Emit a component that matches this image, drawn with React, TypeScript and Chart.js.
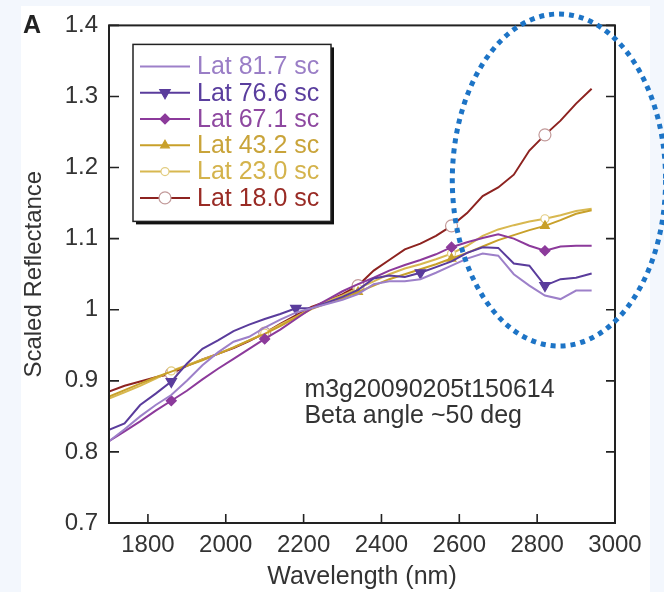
import React, { useEffect, useRef } from "react";
import { Chart, registerables } from "chart.js";

Chart.register(...registerables);

// ---------- data ----------
const wavelengths = [
  1700, 1740, 1780, 1820, 1860, 1900, 1940, 1980, 2020, 2060, 2100, 2140, 2180, 2220, 2260, 2300,
  2340, 2380, 2420, 2460, 2500, 2540, 2580, 2620, 2660, 2700, 2740, 2780, 2820, 2860, 2900, 2940,
];

const lat817 = [
  0.815, 0.832, 0.85, 0.866, 0.88, 0.9, 0.922, 0.94, 0.955, 0.962, 0.975, 0.986, 0.996, 1.002, 1.008, 1.014,
  1.022, 1.036, 1.04, 1.04, 1.043, 1.052, 1.062, 1.072, 1.079, 1.076, 1.05, 1.034, 1.02, 1.015, 1.027, 1.027,
];
const lat766 = [
  0.831, 0.84, 0.866, 0.882, 0.899, 0.924, 0.945, 0.957, 0.97, 0.979, 0.987, 0.994, 1.002, 1.002, 1.01, 1.018,
  1.028, 1.044, 1.048, 1.046, 1.052, 1.06, 1.068, 1.08, 1.088, 1.087, 1.065, 1.062, 1.034, 1.043, 1.045, 1.051,
];
const lat671 = [
  0.815, 0.829, 0.843, 0.858, 0.872, 0.886, 0.902, 0.917, 0.931, 0.945, 0.959, 0.972, 0.987, 1.002, 1.014, 1.026,
  1.036, 1.045, 1.055, 1.063, 1.07, 1.078, 1.088, 1.095, 1.101, 1.106, 1.1, 1.09, 1.083, 1.089, 1.09, 1.09,
];
const lat432 = [
  0.878, 0.887, 0.896, 0.905, 0.913, 0.921, 0.929, 0.938, 0.947, 0.957, 0.966, 0.977, 0.989, 1.001, 1.009, 1.016,
  1.025, 1.034, 1.043, 1.05, 1.057, 1.064, 1.072, 1.08, 1.089, 1.098, 1.105, 1.112, 1.118, 1.126, 1.135, 1.14,
];
const lat230 = [
  0.875, 0.884, 0.893, 0.903, 0.914, 0.922, 0.93, 0.938, 0.947, 0.957, 0.967, 0.979, 0.99, 1.002, 1.012, 1.02,
  1.03, 1.04, 1.05, 1.058, 1.064, 1.071, 1.079, 1.09, 1.104, 1.113, 1.119, 1.124, 1.128, 1.133, 1.139, 1.142,
];
const lat180 = [
  0.885, 0.893, 0.899, 0.905, 0.91, 0.921, 0.93, 0.938, 0.946, 0.956, 0.967, 0.98, 0.992, 1.004, 1.012, 1.022,
  1.034, 1.055, 1.07, 1.085, 1.093, 1.104, 1.118, 1.136, 1.16, 1.172, 1.19, 1.224, 1.246, 1.266, 1.29, 1.311,
];

const seriesLabels = ["Lat 81.7 sc", "Lat 76.6 sc", "Lat 67.1 sc", "Lat 43.2 sc", "Lat 23.0 sc", "Lat 18.0 sc"];
const seriesValues = [lat817, lat766, lat671, lat432, lat230, lat180];

// wavelengths where each series shows a marker
const markers817: number[] = [];
const markers766 = [1860, 2180, 2500, 2820];
const markers671 = [1860, 2100, 2580, 2820];
const markers432 = [2340, 2580, 2820];
const markers230 = [1860, 2100, 2340, 2580, 2820];
const markers180 = [1860, 2100, 2340, 2580, 2820];
const seriesMarkers = [markers817, markers766, markers671, markers432, markers230, markers180];

const xTicks = [1800, 2000, 2200, 2400, 2600, 2800, 3000];
const yTicks = [0.7, 0.8, 0.9, 1.0, 1.1, 1.2, 1.3, 1.4];

const xTitle = "Wavelength (nm)";
const yTitle = "Scaled Reflectance";
const panelLetter = "A";
const noteLines = ["m3g20090205t150614", "Beta angle ~50 deg"];

// ---------- styles ----------
const FONT = "'Liberation Sans', Arial, Helvetica, sans-serif";
const TEXT = "#333333";
const lineColors = ["#9d80c9", "#5a3c9c", "#8c3a9b", "#c8a02a", "#d8b850", "#8d2320"];
const legendTextColors = ["#9a7ec6", "#5a3e9e", "#8e48a0", "#c9a43a", "#d4b34c", "#992b25"];
const markerStyles = [
  { style: "circle", r: 0, rot: 0, fill: "#9d80c9", stroke: "#9d80c9" },
  { style: "triangle", r: 6, rot: 180, fill: "#5a3c9c", stroke: "#5a3c9c" },
  { style: "rectRot", r: 5, rot: 0, fill: "#8c3a9b", stroke: "#8c3a9b" },
  { style: "triangle", r: 5, rot: 0, fill: "#c8a02a", stroke: "#c8a02a" },
  { style: "circle", r: 4, rot: 0, fill: "#ffffff", stroke: "#e2cc80" },
  { style: "circle", r: 6, rot: 0, fill: "#ffffff", stroke: "#c29a9a" },
];

function drawMarker(ctx: CanvasRenderingContext2D, m: any, x: number, y: number) {
  if (!m.r) return;
  ctx.save();
  ctx.beginPath();
  if (m.style === "circle") {
    ctx.arc(x, y, m.r, 0, Math.PI * 2);
  } else if (m.style === "triangle") {
    let a = (m.rot * Math.PI) / 180;
    for (let k = 0; k < 3; k++) {
      const px = x + Math.sin(a) * m.r;
      const py = y - Math.cos(a) * m.r;
      if (k === 0) ctx.moveTo(px, py);
      else ctx.lineTo(px, py);
      a += (2 * Math.PI) / 3;
    }
    ctx.closePath();
  } else {
    ctx.moveTo(x, y - m.r);
    ctx.lineTo(x + m.r, y);
    ctx.lineTo(x, y + m.r);
    ctx.lineTo(x - m.r, y);
    ctx.closePath();
  }
  ctx.fillStyle = m.fill;
  ctx.fill();
  ctx.lineWidth = 1.2;
  ctx.strokeStyle = m.stroke;
  ctx.stroke();
  ctx.restore();
}

const decorPlugin = {
  id: "decor",
  beforeDraw(chart: any) {
    const { ctx, width, height } = chart;
    ctx.save();
    ctx.fillStyle = "#f3f7fd";
    ctx.fillRect(0, 0, width, height);
    ctx.fillStyle = "#ffffff";
    ctx.fillRect(21, 6, 629, height - 6);
    ctx.fillStyle = "#222";
    ctx.font = `bold 25px ${FONT}`;
    ctx.textBaseline = "alphabetic";
    ctx.textAlign = "left";
    ctx.fillText(panelLetter, 23, 33);
    ctx.restore();
  },
  afterDraw(chart: any) {
    const { ctx, chartArea } = chart;
    const xs = chart.scales.x;
    const ys = chart.scales.y;
    const { left, right, top, bottom } = chartArea;
    ctx.save();
    // frame
    ctx.strokeStyle = "#222";
    ctx.lineWidth = 2;
    ctx.strokeRect(left, top, right - left, bottom - top);
    // inward ticks
    ctx.lineWidth = 1.6;
    ctx.beginPath();
    xTicks.forEach((v) => {
      const px = xs.getPixelForValue(v);
      ctx.moveTo(px, bottom);
      ctx.lineTo(px, bottom - 9);
    });
    yTicks.forEach((v) => {
      const py = ys.getPixelForValue(v);
      ctx.moveTo(left, py);
      ctx.lineTo(left + 10, py);
      ctx.moveTo(right, py);
      ctx.lineTo(right - 9, py);
    });
    ctx.stroke();

    // note text
    ctx.fillStyle = TEXT;
    ctx.font = `25px ${FONT}`;
    ctx.textAlign = "left";
    ctx.textBaseline = "middle";
    const nx = xs.getPixelForValue(2202);
    ctx.fillText(noteLines[0], nx, ys.getPixelForValue(0.887));
    ctx.fillText(noteLines[1], nx, ys.getPixelForValue(0.85));

    // legend box
    const bx = left + 24;
    const by = top + 19;
    const bw = 198;
    const bh = 177;
    ctx.fillStyle = "#111";
    ctx.fillRect(bx + 3, by + 3, bw, bh);
    ctx.fillStyle = "#ffffff";
    ctx.fillRect(bx, by, bw, bh);
    ctx.strokeStyle = "#222";
    ctx.lineWidth = 1.5;
    ctx.strokeRect(bx, by, bw, bh);
    ctx.font = `25px ${FONT}`;
    chart.data.datasets.forEach((ds: any, i: number) => {
      const ry = by + 22 + i * 26.3;
      ctx.strokeStyle = ds.borderColor;
      ctx.lineWidth = 2;
      ctx.beginPath();
      ctx.moveTo(bx + 7, ry);
      ctx.lineTo(bx + 57, ry);
      ctx.stroke();
      drawMarker(ctx, markerStyles[i], bx + 32, ry);
      ctx.fillStyle = legendTextColors[i];
      ctx.fillText(ds.label, bx + 64, ry + 1);
    });

    // dotted ellipse highlight
    const cx = xs.getPixelForValue(2856);
    const cy = ys.getPixelForValue(1.1825);
    const rx = xs.getPixelForValue(2856 + 274) - cx;
    const ry2 = cy - ys.getPixelForValue(1.1825 + 0.2336);
    ctx.beginPath();
    ctx.ellipse(cx, cy, rx, ry2, 0, 0, Math.PI * 2);
    ctx.setLineDash([5, 5]);
    ctx.lineWidth = 5;
    ctx.strokeStyle = "#1d74c6";
    ctx.stroke();
    ctx.restore();
  },
};

export default function App() {
  const canvasRef = useRef<HTMLCanvasElement | null>(null);

  useEffect(() => {
    const canvas = canvasRef.current;
    if (!canvas) return;
    const datasets = seriesValues.map((vals, i) => {
      const m = markerStyles[i];
      const marks = seriesMarkers[i];
      return {
        label: seriesLabels[i],
        data: wavelengths.map((w, k) => ({ x: w, y: vals[k] })),
        borderColor: lineColors[i],
        backgroundColor: lineColors[i],
        borderWidth: 2,
        tension: 0,
        pointStyle: m.style,
        rotation: m.rot,
        pointBackgroundColor: m.fill,
        pointBorderColor: m.stroke,
        pointBorderWidth: 1.2,
        pointRadius: (c: any) => (marks.includes(wavelengths[c.dataIndex]) ? m.r : 0),
        pointHoverRadius: 0,
      };
    });

    const chart = new Chart(canvas, {
      type: "line",
      data: { datasets } as any,
      options: {
        animation: false,
        responsive: false,
        events: [],
        layout: { padding: { left: 0, top: 22, right: 49, bottom: 0 } },
        plugins: { legend: { display: false }, tooltip: { enabled: false } },
        scales: {
          x: {
            type: "linear",
            min: 1700,
            max: 3000,
            afterBuildTicks: (s: any) => {
              s.ticks = xTicks.map((v) => ({ value: v }));
            },
            afterFit: (s: any) => {
              s.height = 69;
            },
            grid: { display: false, drawTicks: false },
            border: { display: false },
            ticks: {
              padding: 8,
              color: TEXT,
              font: { size: 24, family: FONT },
              maxRotation: 0,
              autoSkip: false,
              callback: (v: any) => String(v),
            },
            title: {
              display: true,
              text: xTitle,
              color: TEXT,
              font: { size: 25, family: FONT },
              padding: { top: 0, bottom: 0 },
            },
          },
          y: {
            type: "linear",
            min: 0.7,
            max: 1.4,
            afterBuildTicks: (s: any) => {
              s.ticks = yTicks.map((v) => ({ value: v }));
            },
            afterFit: (s: any) => {
              s.width = 109;
            },
            grid: { display: false, drawTicks: false },
            border: { display: false },
            ticks: {
              padding: 11,
              color: TEXT,
              font: { size: 24, family: FONT },
              autoSkip: false,
              callback: (v: any) => String(Math.round(Number(v) * 10) / 10),
            },
            title: {
              display: true,
              text: yTitle,
              color: TEXT,
              font: { size: 24, family: FONT },
              padding: { top: 20, bottom: 0 },
            },
          },
        },
      } as any,
      plugins: [decorPlugin as any],
    });
    return () => chart.destroy();
  }, []);

  return (
    <div style={{ position: "fixed", left: 0, top: 0, width: 664, height: 592 }}>
      <canvas ref={canvasRef} width={664} height={592} style={{ display: "block" }} />
    </div>
  );
}
